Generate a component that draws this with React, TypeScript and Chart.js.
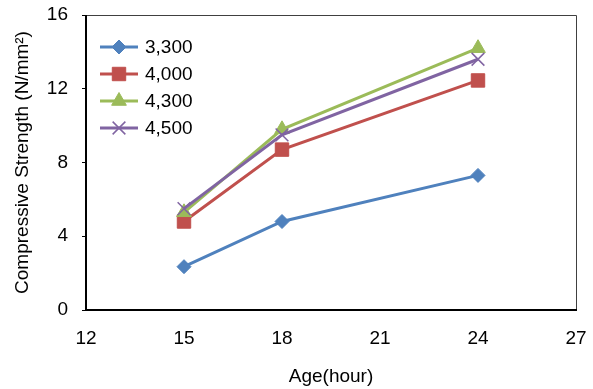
import React, { useEffect, useRef } from 'react';
import { Chart, registerables } from 'chart.js';
import { drawPoint } from 'chart.js/helpers';

Chart.register(...registerables);

const ages = [15, 18, 24];
const series3300 = [2.35, 4.8, 7.3];
const series4000 = [4.8, 8.7, 12.45];
const series4300 = [5.3, 9.8, 14.2];
const series4500 = [5.5, 9.5, 13.6];
const seriesLabels = ['3,300', '4,000', '4,300', '4,500'];
const seriesColors = ['#4F81BD', '#C0504D', '#9BBB59', '#8064A2'];
const seriesStyles = ['rectRot', 'rect', 'triangle', 'crossRot'];
const seriesRadius = [7, 9.5, 8.5, 9];
const xTicks = [12, 15, 18, 21, 24, 27];
const yTicks = [0, 4, 8, 12, 16];

const FONT = 'Arial, "Liberation Sans", sans-serif';
const FONT_SIZE = 19;

const framePlugin = {
  id: 'frame',
  afterDatasetsDraw(chart: any) {
    const { ctx, chartArea } = chart;
    const { left, right, top, bottom } = chartArea;
    ctx.save();
    ctx.strokeStyle = '#404040';
    ctx.lineWidth = 1;
    ctx.beginPath();
    ctx.moveTo(left, top + 0.5);
    ctx.lineTo(right + 0.5, top + 0.5);
    ctx.lineTo(right + 0.5, bottom);
    ctx.stroke();
    ctx.strokeStyle = '#000000';
    ctx.lineWidth = 2;
    ctx.beginPath();
    ctx.moveTo(left, top);
    ctx.lineTo(left, bottom);
    ctx.lineTo(right + 1, bottom);
    ctx.stroke();
    ctx.restore();
  },
};

const legendPlugin = {
  id: 'customLegend',
  afterDraw(chart: any) {
    const { ctx } = chart;
    const x0 = 100;
    const x1 = 138;
    const startY = 47;
    const step = 27;
    ctx.save();
    chart.data.datasets.forEach((ds: any, i: number) => {
      const y = startY + i * step;
      ctx.strokeStyle = ds.borderColor;
      ctx.lineWidth = 3;
      ctx.beginPath();
      ctx.moveTo(x0, y);
      ctx.lineTo(x1, y);
      ctx.stroke();
      ctx.fillStyle = ds.pointBackgroundColor;
      ctx.strokeStyle = ds.pointBorderColor;
      ctx.lineWidth = ds.pointBorderWidth;
      drawPoint(ctx, { pointStyle: ds.pointStyle, radius: ds.pointRadius, rotation: 0, borderWidth: ds.pointBorderWidth }, (x0 + x1) / 2, y);
      ctx.fillStyle = '#000000';
      ctx.font = `${FONT_SIZE}px ${FONT}`;
      ctx.textBaseline = 'middle';
      ctx.textAlign = 'left';
      ctx.fillText(ds.label, 145, y + 1);
    });
    ctx.restore();
  },
};

const zeroPadding = (scale: any) => {
  scale.paddingLeft = 0;
  scale.paddingRight = 0;
  scale.paddingTop = 0;
  scale.paddingBottom = 0;
};

function App() {
  const canvasRef = useRef<HTMLCanvasElement | null>(null);

  useEffect(() => {
    if (!canvasRef.current) return;
    const all = [series3300, series4000, series4300, series4500];
    const chart = new Chart(canvasRef.current, {
      type: 'line',
      data: {
        datasets: all.map((vals, i) => ({
          label: seriesLabels[i],
          data: ages.map((a, j) => ({ x: a, y: vals[j] })),
          borderColor: seriesColors[i],
          backgroundColor: seriesColors[i],
          pointBackgroundColor: seriesColors[i],
          pointBorderColor: seriesColors[i],
          pointBorderWidth: seriesStyles[i] === 'crossRot' ? 1.5 : 1,
          pointStyle: seriesStyles[i] as any,
          pointRadius: seriesRadius[i],
          pointHoverRadius: seriesRadius[i],
          borderWidth: 3,
          tension: 0,
          fill: false,
          order: 4 - i,
        })),
      },
      options: {
        responsive: false,
        animation: false,
        devicePixelRatio: 1,
        layout: { padding: { left: 0, top: 15, right: 17, bottom: 0 } },
        plugins: {
          legend: { display: false },
          tooltip: { enabled: false },
        },
        events: [],
        scales: {
          x: {
            type: 'linear',
            min: 12,
            max: 27,
            afterBuildTicks: (scale: any) => {
              scale.ticks = xTicks.map((v) => ({ value: v }));
            },
            afterFit: (scale: any) => {
              scale.height = 79;
              zeroPadding(scale);
            },
            grid: { display: false, drawTicks: false },
            border: { display: false },
            ticks: {
              color: '#000000',
              font: { family: FONT, size: FONT_SIZE },
              padding: 17,
              maxRotation: 0,
            },
            title: {
              display: true,
              text: 'Age(hour)',
              color: '#000000',
              font: { family: FONT, size: FONT_SIZE },
              padding: { top: 0, bottom: 1 },
            },
          },
          y: {
            type: 'linear',
            min: 0,
            max: 16,
            afterBuildTicks: (scale: any) => {
              scale.ticks = yTicks.map((v) => ({ value: v }));
            },
            afterFit: (scale: any) => {
              scale.width = 86;
              zeroPadding(scale);
            },
            grid: {
              display: true,
              drawOnChartArea: false,
              drawTicks: true,
              tickLength: 4,
              color: '#000000',
              lineWidth: 1,
            },
            border: { display: false },
            ticks: {
              color: '#000000',
              font: { family: FONT, size: FONT_SIZE },
              padding: 14,
            },
            title: {
              display: true,
              text: 'Compressive Strength (N/mm²)',
              color: '#000000',
              font: { family: FONT, size: FONT_SIZE },
              padding: { top: 11, bottom: 0 },
            },
          },
        },
      },
      plugins: [framePlugin, legendPlugin],
    });
    return () => chart.destroy();
  }, []);

  return (
    <div style={{ position: 'absolute', left: 0, top: 0, width: 593, height: 389, background: '#ffffff' }}>
      <canvas ref={canvasRef} width={593} height={389} style={{ width: 593, height: 389, display: 'block' }} />
    </div>
  );
}

export default App;
